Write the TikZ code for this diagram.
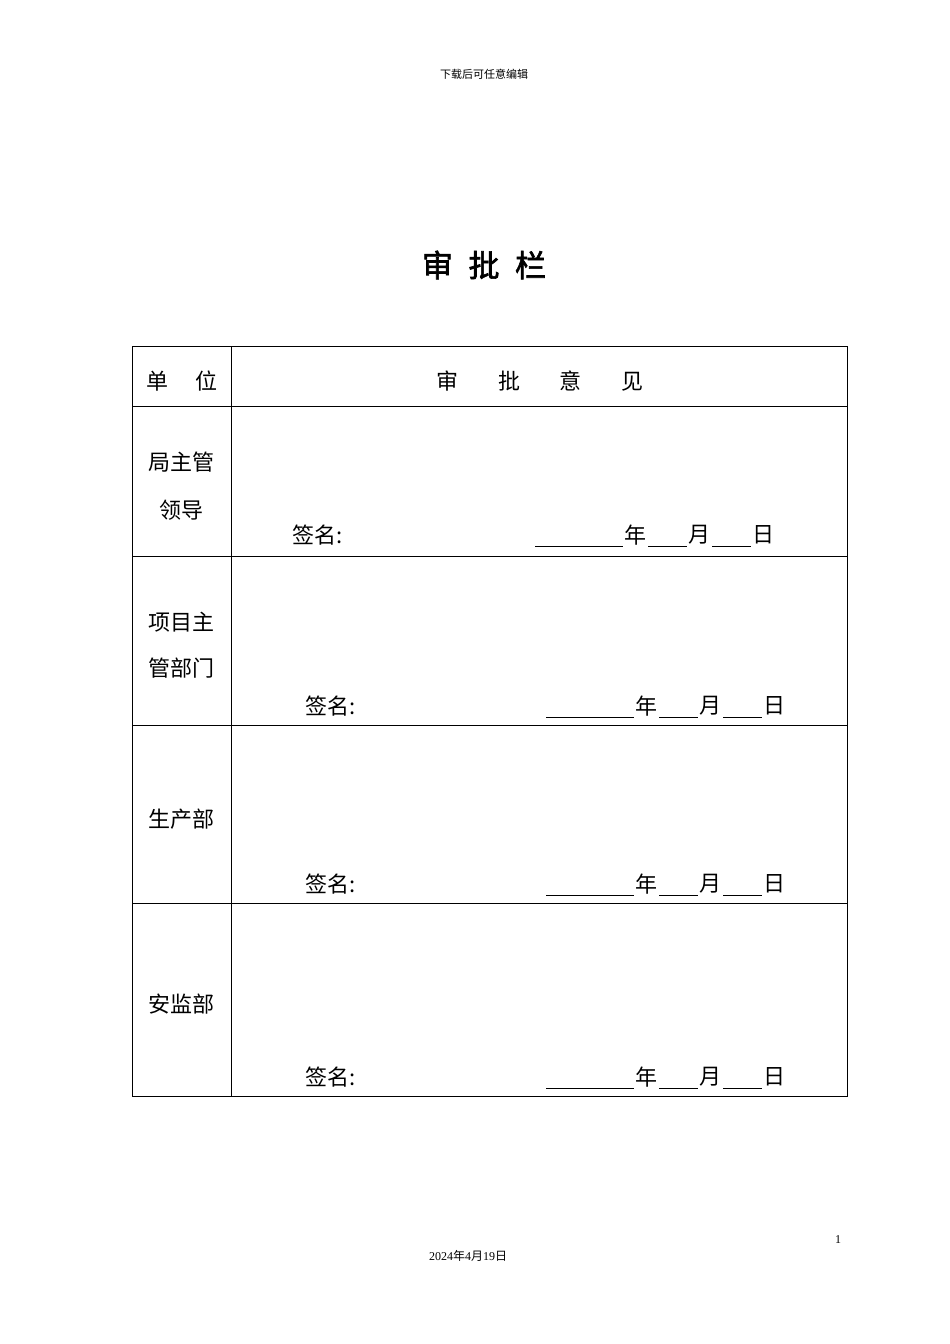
\documentclass[tikz,border=0pt]{standalone}
\usepackage{fontspec}
\setmainfont{Liberation Serif}
\newfontfamily\cjk{Noto Sans CJK SC}
\newfontfamily\cjkb{Noto Sans CJK SC}[FakeBold=2]
\begin{document}
\begin{tikzpicture}[x=1pt,y=-1pt,
  cell/.style={inner sep=0pt,font=\cjk\fontsize{22}{26}\selectfont},
  small/.style={inner sep=0pt,font=\cjk\fontsize{11}{13}\selectfont},
  grid/.style={line width=0.8pt,black}]
\useasboundingbox (0,0) rectangle (950,1344);
\node[small] (hd) at (484,74) {下载后可任意编辑};
\node[inner sep=0pt,font=\cjkb\fontsize{31}{36}\selectfont] (tt) at (484,265) {审\hspace{0.5em}批\hspace{0.5em}栏};
% table
\draw[grid] (132,346) rectangle (847,1096);
\draw[grid] (231,346) -- (231,1096);
\foreach \y in {406,556,725,903} \draw[grid] (132,\y) -- (847,\y);
\node[cell] (h1) at (182,381) {单\hspace{1.2em}位};
\node[cell] (h2) at (540,381) {审\hspace{1.8em}批\hspace{1.8em}意\hspace{1.8em}见};
\node[cell] (r1a) at (181,462) {局主管};
\node[cell] (r1b) at (181,510) {领导};
\node[cell] (r2a) at (181,622) {项目主};
\node[cell] (r2b) at (181,668) {管部门};
\node[cell] (r3) at (181,819) {生产部};
\node[cell] (r4) at (181,1004) {安监部};
\foreach \sx/\dx/\y/\n in {292/535/535/a,305/546/706/b,305/546/884/c,305/546/1077/d}{
  \node[cell,anchor=west] (s\n) at (\sx,\y) {签名:};
  \draw[line width=0.8pt] (\dx,\y+11) -- (\dx+88,\y+11);
  \node[cell,anchor=west] (y\n) at (\dx+89,\y) {年};
  \draw[line width=0.8pt] (\dx+113,\y+11) -- (\dx+152,\y+11);
  \node[cell,anchor=west] (m\n) at (\dx+153,\y) {月};
  \draw[line width=0.8pt] (\dx+177,\y+11) -- (\dx+216,\y+11);
  \node[cell,anchor=west] (d\n) at (\dx+217,\y) {日};
}
\node[inner sep=0pt,font=\fontsize{12}{14}\selectfont] (pg) at (838,1240) {1};
\node[inner sep=0pt,font=\fontsize{12}{14}\selectfont] (dt) at (468,1256) {2024{\cjk 年}4{\cjk 月}19{\cjk 日}};
\end{tikzpicture}
\end{document}
